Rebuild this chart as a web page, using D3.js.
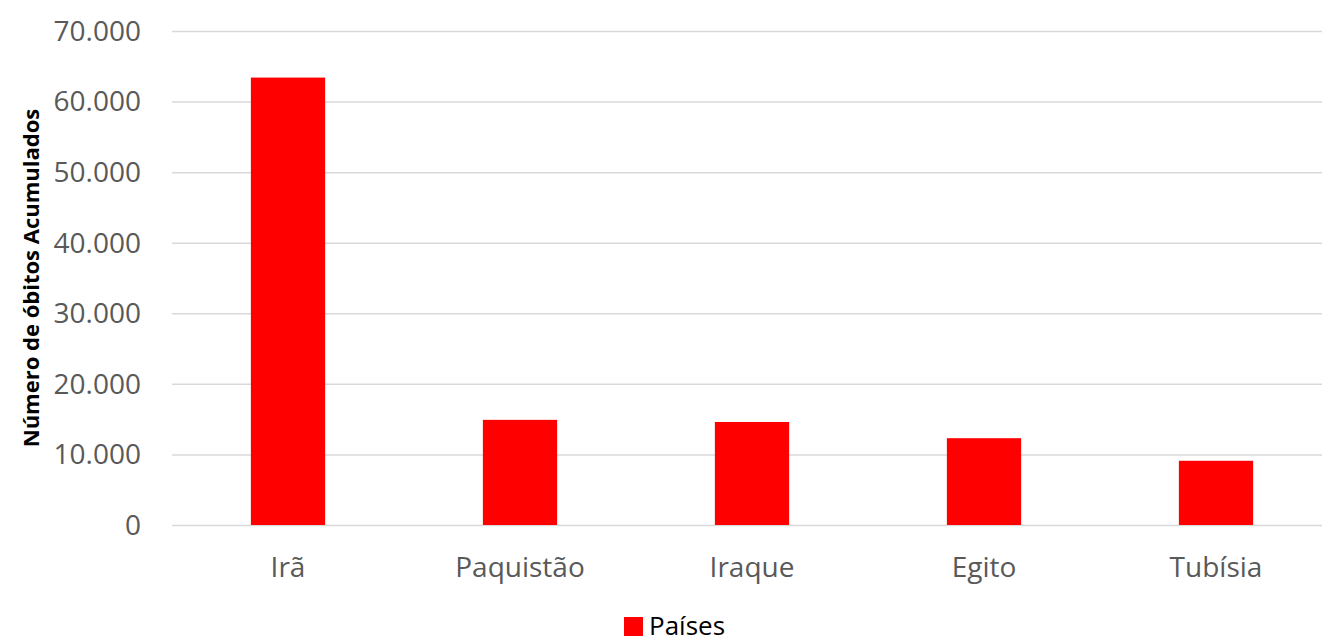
<!DOCTYPE html>
<html>
<head>
<meta charset="utf-8">
<script src="https://cdn.jsdelivr.net/npm/d3@7"></script>
<style>
  body { margin: 0; background: #fff; }
  svg { display: block; font-family: "Open Sans", "Noto Sans", sans-serif; }
</style>
</head>
<body>
<script>
// data
var countries = ["Irã", "Paquistão", "Iraque", "Egito", "Tubísia"];
var deaths = [63400, 14900, 14600, 12300, 9100];
var yTicks = [0, 10000, 20000, 30000, 40000, 50000, 60000, 70000];
var seriesName = "Países";
var yTitle = "Número de óbitos Acumulados";

var width = 1322, height = 640;
var plot = { left: 172, right: 1332, top: 31, bottom: 525 };

var svg = d3.select("body").append("svg")
  .attr("width", width)
  .attr("height", height);

var x = d3.scaleBand()
  .domain(countries)
  .range([plot.left, plot.right])
  .paddingInner(0.68)
  .paddingOuter(0.34);

var y = d3.scaleLinear()
  .domain([0, 70000])
  .range([plot.bottom, plot.top]);

var fmt = function(d) { return d3.format(",")(d).replace(/,/g, "."); };

// grid lines
svg.append("g")
  .selectAll("line")
  .data(yTicks)
  .enter().append("line")
  .attr("x1", plot.left)
  .attr("x2", plot.right)
  .attr("y1", function(d) { return y(d) + 0.5; })
  .attr("y2", function(d) { return y(d) + 0.5; })
  .attr("stroke", "#d9d9d9")
  .attr("stroke-width", 1.5);

// y tick labels
svg.append("g")
  .selectAll("text")
  .data(yTicks)
  .enter().append("text")
  .attr("x", 141)
  .attr("y", function(d) { return y(d); })
  .attr("dy", "0.35em")
  .attr("text-anchor", "end")
  .attr("fill", "#595959")
  .style("font-size", "28px")
  .text(fmt);

// bars
svg.append("g")
  .selectAll("rect")
  .data(deaths)
  .enter().append("rect")
  .attr("x", function(d, i) { return x(countries[i]); })
  .attr("width", x.bandwidth())
  .attr("y", function(d) { return y(d); })
  .attr("height", function(d) { return y(0) - y(d); })
  .attr("fill", "#ff0000");

// x labels
svg.append("g")
  .selectAll("text")
  .data(countries)
  .enter().append("text")
  .attr("x", function(d) { return x(d) + x.bandwidth() / 2; })
  .attr("y", 577)
  .attr("text-anchor", "middle")
  .attr("fill", "#595959")
  .style("font-size", "28px")
  .text(function(d) { return d; });

// y axis title
svg.append("text")
  .attr("transform", "translate(39," + 278 + ") rotate(-90)")
  .attr("text-anchor", "middle")
  .attr("fill", "#000")
  .style("font-size", "22px")
  .style("font-weight", "bold")
  .text(yTitle);

// legend
var legend = svg.append("g").attr("transform", "translate(624,617)");
legend.append("rect")
  .attr("width", 19)
  .attr("height", 19)
  .attr("fill", "#ff0000");
legend.append("text")
  .attr("x", 25)
  .attr("y", 18)
  .attr("fill", "#000")
  .style("font-size", "26px")
  .text(seriesName);
</script>
</body>
</html>
